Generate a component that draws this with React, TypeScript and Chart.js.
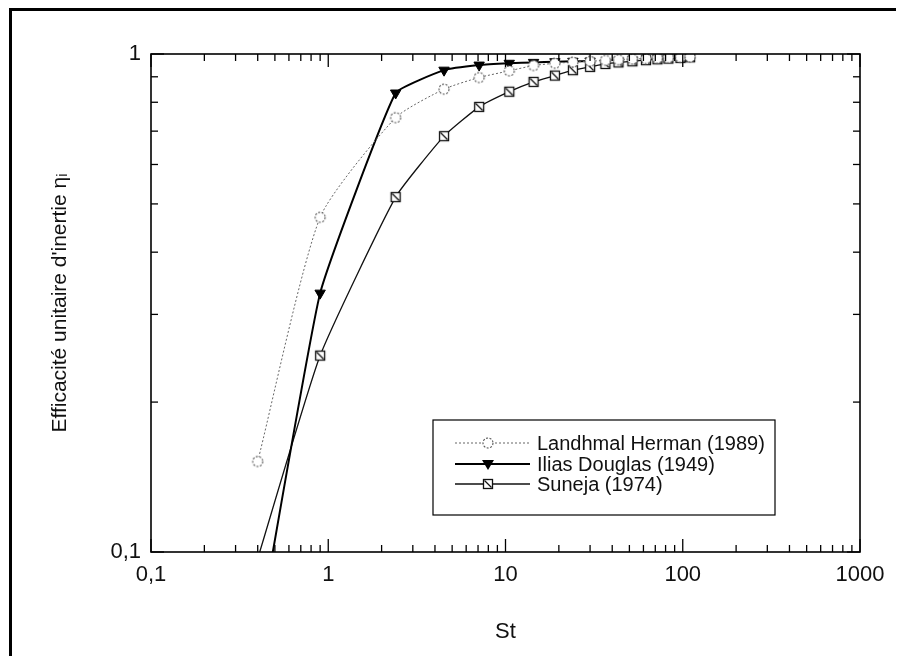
import React, { useEffect, useRef } from 'react';
import { Chart, registerables } from 'chart.js';

Chart.register(...registerables);

// ---- Data ----
const xTickValues = [0.1, 1, 10, 100, 1000];
const xTickLabels = ['0,1', '1', '10', '100', '1000'];
const yTickValues = [0.1, 1];
const yTickLabels = ['0,1', '1'];

const landhmalSt = [0.4, 0.9, 2.4, 4.5, 7.1, 10.5, 14.4, 19, 24, 30, 36.6, 43.4, 52, 62, 72, 83, 97, 110];
const landhmalEta = [0.152, 0.47, 0.745, 0.85, 0.897, 0.925, 0.948, 0.958, 0.963, 0.967, 0.971, 0.974, 0.977, 0.979, 0.981, 0.983, 0.985, 0.986];

const iliasSt = [0.4, 0.9, 2.4, 4.5, 7.1, 10.5, 14.4, 19, 24, 30];
const iliasEta = [0.067, 0.331, 0.835, 0.928, 0.95, 0.958, 0.962, 0.965, 0.967, 0.968];

const sunejaSt = [0.4, 0.9, 2.4, 4.5, 7.1, 10.5, 14.4, 19, 24, 30, 36.6, 43.4, 52, 62, 72, 83, 97, 110];
const sunejaEta = [0.097, 0.248, 0.516, 0.684, 0.783, 0.84, 0.879, 0.905, 0.928, 0.942, 0.955, 0.962, 0.967, 0.972, 0.976, 0.979, 0.982, 0.985];

const seriesNames = ['Landhmal Herman (1989)', 'Ilias Douglas (1949)', 'Suneja (1974)'];
const xTitle = 'St';
const yTitle = "Efficacité unitaire d'inertie ηᵢ";

const FONT = '"Liberation Sans", Arial, Helvetica, sans-serif';

function pts(xs: number[], ys: number[]) {
  return xs.map((x, i) => ({ x, y: ys[i] }));
}

function makeCircle(): HTMLCanvasElement {
  const c = document.createElement('canvas');
  c.width = 14; c.height = 14;
  const g = c.getContext('2d')!;
  g.fillStyle = '#fff';
  g.beginPath(); g.arc(7, 7, 5, 0, Math.PI * 2); g.fill();
  g.strokeStyle = '#555'; g.lineWidth = 1.1; g.setLineDash([2, 1.5]);
  g.beginPath(); g.arc(7, 7, 5, 0, Math.PI * 2); g.stroke();
  return c;
}

function makeSquare(): HTMLCanvasElement {
  const c = document.createElement('canvas');
  c.width = 14; c.height = 14;
  const g = c.getContext('2d')!;
  g.fillStyle = '#fff'; g.fillRect(2, 2, 10, 10);
  g.strokeStyle = '#111'; g.lineWidth = 1.3;
  g.strokeRect(2.5, 2.5, 9, 9);
  g.beginPath(); g.moveTo(3.5, 3.5); g.lineTo(10.5, 10.5); g.stroke();
  return c;
}

export default function App() {
  const ref = useRef<HTMLCanvasElement | null>(null);

  useEffect(() => {
    if (!ref.current) return;
    const circle = makeCircle();
    const square = makeSquare();

    const decor = {
      id: 'decor',
      afterDraw(chart: any) {
        const ctx = chart.ctx as CanvasRenderingContext2D;
        const { left, right, top, bottom } = chart.chartArea;
        const xs = chart.scales.x;
        const ys = chart.scales.y;
        ctx.save();
        ctx.strokeStyle = '#000';
        ctx.lineWidth = 1.6;
        ctx.strokeRect(left, top, right - left, bottom - top);
        ctx.lineWidth = 1.3;
        const seg = (x1: number, y1: number, x2: number, y2: number) => {
          ctx.beginPath(); ctx.moveTo(x1, y1); ctx.lineTo(x2, y2); ctx.stroke();
        };
        for (let e = -1; e <= 3; e++) {
          for (let m = 1; m <= 9; m++) {
            const v = m * Math.pow(10, e);
            if (v > 1000.0001) break;
            const px = xs.getPixelForValue(v);
            const L = m === 1 ? 13 : 7;
            seg(px, bottom, px, bottom - L);
            seg(px, top, px, top + L);
          }
        }
        for (let m = 1; m <= 10; m++) {
          const v = m * 0.1;
          const py = ys.getPixelForValue(v);
          const L = m === 1 || m === 10 ? 13 : 7;
          seg(left, py, left + L, py);
          seg(right, py, right - L, py);
        }

        // Legend
        const bx = 425, by = 412, bw = 342, bh = 95;
        ctx.fillStyle = '#fff';
        ctx.fillRect(bx, by, bw, bh);
        ctx.strokeStyle = '#000';
        ctx.lineWidth = 1.2;
        ctx.strokeRect(bx, by, bw, bh);
        const rows = [435, 456, 476];
        const lx1 = 447, lx2 = 522, mx = 480, tx = 529;
        ctx.font = `20px ${FONT}`;
        ctx.textBaseline = 'middle';
        ctx.textAlign = 'left';
        // row 1: dotted gray
        ctx.strokeStyle = '#666'; ctx.lineWidth = 1; ctx.setLineDash([2, 2]);
        seg(lx1, rows[0], lx2, rows[0]);
        ctx.setLineDash([]);
        ctx.drawImage(circle, mx - 7, rows[0] - 7);
        // row 2: black thick + triangle
        ctx.strokeStyle = '#000'; ctx.lineWidth = 2;
        seg(lx1, rows[1], lx2, rows[1]);
        ctx.fillStyle = '#000';
        ctx.beginPath();
        ctx.moveTo(mx - 6, rows[1] - 4);
        ctx.lineTo(mx + 6, rows[1] - 4);
        ctx.lineTo(mx, rows[1] + 6);
        ctx.closePath(); ctx.fill();
        // row 3: black thin + square
        ctx.strokeStyle = '#111'; ctx.lineWidth = 1.3;
        seg(lx1, rows[2], lx2, rows[2]);
        ctx.drawImage(square, mx - 7, rows[2] - 7);
        ctx.fillStyle = '#111';
        seriesNames.forEach((n, i) => ctx.fillText(n, tx, rows[i] + 1));
        ctx.restore();
      },
    };

    const chart = new Chart(ref.current, {
      type: 'line',
      data: {
        datasets: [
          {
            label: seriesNames[0],
            data: pts(landhmalSt, landhmalEta),
            borderColor: '#666',
            borderWidth: 1,
            borderDash: [2, 2],
            tension: 0.2,
            pointStyle: circle as any,
            pointRadius: 5,
          },
          {
            label: seriesNames[1],
            data: pts(iliasSt, iliasEta),
            borderColor: '#000',
            borderWidth: 2,
            tension: 0.12,
            pointStyle: 'triangle',
            pointRotation: 180,
            pointRadius: 6,
            pointBackgroundColor: '#000',
            pointBorderColor: '#000',
            pointBorderWidth: 1,
          },
          {
            label: seriesNames[2],
            data: pts(sunejaSt, sunejaEta),
            borderColor: '#111',
            borderWidth: 1.3,
            tension: 0.15,
            pointStyle: square as any,
            pointRadius: 5,
          },
        ],
      },
      options: {
        animation: false,
        responsive: false,
        events: [],
        layout: { padding: { left: 0, right: 36, top: 46, bottom: 0 } },
        plugins: { legend: { display: false }, tooltip: { enabled: false } },
        scales: {
          x: {
            type: 'logarithmic',
            min: 0.1,
            max: 1000,
            grid: { display: false, drawTicks: false },
            border: { display: false },
            afterBuildTicks: (s: any) => { s.ticks = xTickValues.map((v) => ({ value: v })); },
            afterFit: (s: any) => { s.height = 112; },
            ticks: {
              autoSkip: false,
              maxRotation: 0,
              padding: 10,
              color: '#111',
              font: { family: FONT, size: 22 },
              callback: (v: any) => xTickLabels[xTickValues.findIndex((t) => Math.abs(t - Number(v)) < 1e-9)] ?? '',
            },
            title: {
              display: true,
              text: xTitle,
              color: '#111',
              font: { family: FONT, size: 22 },
              padding: { top: 0, bottom: 19 },
            },
          },
          y: {
            type: 'logarithmic',
            min: 0.1,
            max: 1,
            grid: { display: false, drawTicks: false },
            border: { display: false },
            afterBuildTicks: (s: any) => { s.ticks = yTickValues.map((v) => ({ value: v })); },
            afterFit: (s: any) => { s.width = 143; },
            ticks: {
              autoSkip: false,
              padding: 10,
              color: '#111',
              font: { family: FONT, size: 22 },
              callback: (v: any) => yTickLabels[yTickValues.findIndex((t) => Math.abs(t - Number(v)) < 1e-9)] ?? '',
            },
            title: {
              display: true,
              text: yTitle,
              color: '#111',
              font: { family: FONT, size: 21 },
              padding: { top: 40, bottom: 0 },
            },
          },
        },
      },
      plugins: [decor],
    });
    return () => chart.destroy();
  }, []);

  return (
    <div style={{ position: 'relative', width: 888, height: 656, marginBottom: -8 }}>
      <canvas ref={ref} width={888} height={656} style={{ display: 'block', width: 888, height: 656 }} />
      <div
        style={{
          position: 'absolute',
          left: 1,
          top: 0,
          width: 884,
          height: 653,
          borderLeft: '3px solid #000',
          borderTop: '3px solid #000',
          borderRight: '3px solid #000',
          pointerEvents: 'none',
        }}
      />
    </div>
  );
}
